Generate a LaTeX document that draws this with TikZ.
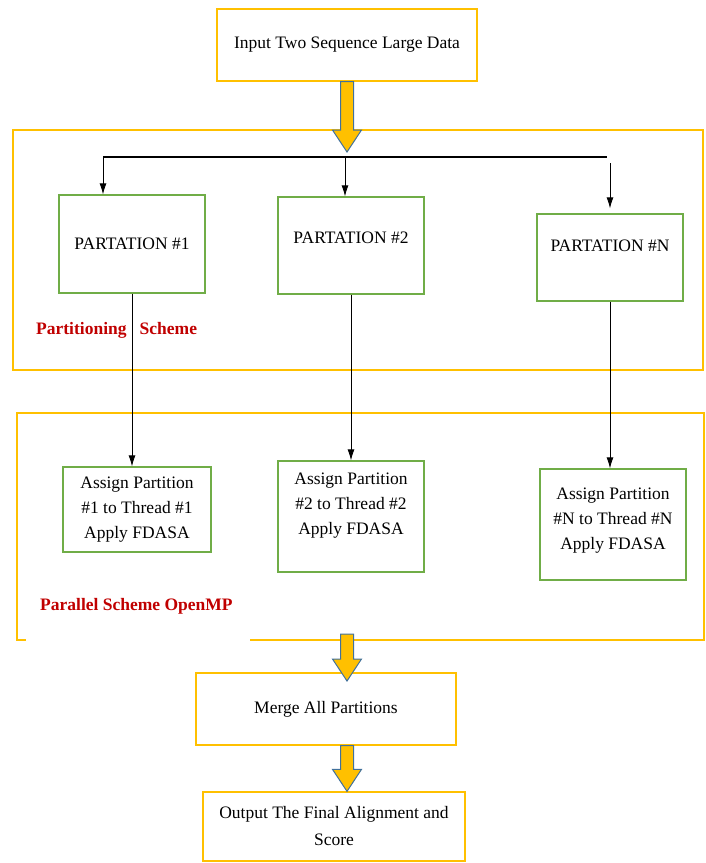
\documentclass[tikz,border=0pt]{standalone}
\usepackage{fontspec}
\setmainfont{Liberation Serif}
\usetikzlibrary{arrows.meta,positioning,calc}

\definecolor{gold}{HTML}{FFC000}
\definecolor{leaf}{HTML}{70AD47}
\definecolor{darkred}{HTML}{C00000}
\definecolor{steel}{HTML}{41719C}

% thick yellow block arrow from #1 down to its tip #2
\newcommand{\blockarrow}[2]{%
  \path[bigarr] let \p1=#1, \p2=#2 in
    (\x1-6.5bp,\y1) -- (\x1+6.5bp,\y1) -- (\x1+6.5bp,\y2+22bp) -- (\x1+14.5bp,\y2+22bp)
    -- (\x1,\y2) -- (\x1-14.5bp,\y2+22bp) -- (\x1-6.5bp,\y2+22bp) -- cycle;}

\begin{document}
\begin{tikzpicture}[x=1bp, y=-1bp,
  inbox/.style={draw=gold, line width=1.3bp, align=center, font=\fontsize{17.5bp}{27bp}\selectfont, inner sep=0pt},
  partbox/.style={draw=leaf, line width=1.3bp, align=center, font=\fontsize{17.5bp}{25bp}\selectfont, inner sep=0pt, minimum width=146bp},
  frame/.style={draw=gold, line width=1.5bp},
  scheme/.style={text=darkred, font=\fontsize{17.5bp}{22bp}\selectfont\bfseries, anchor=west, inner sep=0pt},
  arr/.style={-{Latex[length=11bp,width=7bp]}, line width=0.8bp},
  bar/.style={line width=2.2bp},
  bigarr/.style={fill=gold, draw=steel, line width=1bp}
]
\useasboundingbox (0,0) rectangle (706,863);

\node[inbox, minimum width=260bp, minimum height=72bp] (input) at (347,45) {Input Two Sequence Large Data};

% partitioning
\draw[frame] (13,130) rectangle (703,370);
\coordinate (tip1) at (347,152);
\blockarrow{(input.south)}{(tip1)}

\coordinate (barL) at (103,157);
\coordinate (barM) at (345,157);
\coordinate (barR) at (607,157);
\draw[bar] (barL) -- (barR);

\node[partbox, minimum height=98bp] (p1) at (132,244) {PARTATION \#1};
\node[partbox, minimum height=97bp, text depth=16bp] (p2) at (351,245.5) {PARTATION \#2};
\node[partbox, minimum height=87bp, text depth=24bp] (pN) at (610,257.5) {PARTATION \#N};

\draw[arr] (barL) -- (barL |- p1.north);
\draw[arr] (barM) -- (barM |- p2.north);
\draw[arr] ($(barR)+(3,6)$) -- ($(pN.north)+(0,-5)$);

\node[scheme] (partlabel) at (36,330) {Partitioning\hspace{0.75em}Scheme};

% parallel
\draw[frame] (250,640) -- (704,640) -- (704,413) -- (17,413) -- (17,640) -- (26,640);

\node[partbox, minimum width=148bp, minimum height=85bp] (a1) at (137,509.5) {Assign Partition\\\#1 to Thread \#1\\Apply FDASA};
\node[partbox, minimum height=111bp, text depth=26bp] (a2) at (351,516.5) {Assign Partition\\\#2 to Thread \#2\\Apply FDASA};
\node[partbox, minimum height=111bp, text depth=12bp] (aN) at (613,524.5) {Assign Partition\\\#N to Thread \#N\\Apply FDASA};

\draw[arr] (p1.south) -- (p1.south |- a1.north);
\draw[arr] (p2.south) -- (p2.south |- a2.north);
\draw[arr] (pN.south) -- (pN.south |- aN.north);

\node[scheme] (parlabel) at (40,606) {Parallel Scheme OpenMP};

% merge and output
\node[inbox, minimum width=260bp, minimum height=72bp] (merge) at (326,709) {Merge All Partitions};
\node[inbox, minimum width=262bp, minimum height=69bp] (output) at (334,826.5) {Output The Final Alignment and\\Score};

\coordinate (parbot) at (347,634);
\coordinate (tip2) at (347,681);
\blockarrow{(parbot)}{(tip2)}
\blockarrow{(merge.south -| parbot)}{(output.north -| parbot)}

\end{tikzpicture}
\end{document}
